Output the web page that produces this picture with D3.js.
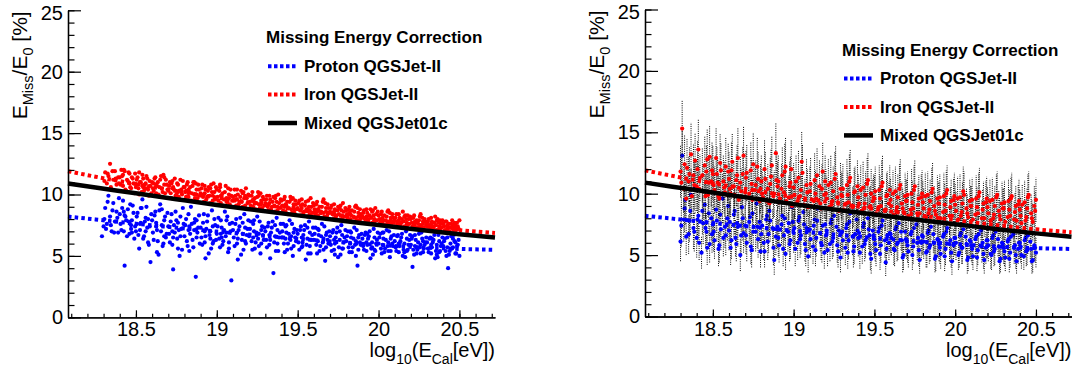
<!DOCTYPE html>
<html>
<head>
<meta charset="utf-8">
<script src="https://cdn.jsdelivr.net/npm/d3@7"></script>
<style>
  body { margin: 0; background: #fff; }
  text { font-family: "Liberation Sans", Arial, Helvetica, sans-serif; fill: #000; }
</style>
</head>
<body>
<svg id="chart" width="1079" height="374"></svg>
<script>

// axis ranges and tick labels
var xDomain = [18.08, 20.72];
var yDomain = [0, 25];
var xTicks = [18.5, 19, 19.5, 20, 20.5];
var yTicks = [0, 5, 10, 15, 20, 25];

var legendTitle = "Missing Energy Correction";
var legendLabels = ["Proton QGSJet-II", "Iron QGSJet-II", "Mixed QGSJet01c"];

// correction curves (same in both panels)
var curveX = [18.08, 18.25, 18.5, 18.75, 19, 19.25, 19.5, 19.75, 20, 20.25, 20.5, 20.72];
var protonCurve = [8.2, 7.97, 7.62, 7.3, 6.98, 6.68, 6.4, 6.13, 5.9, 5.7, 5.57, 5.5];
var ironCurve = [11.9, 11.45, 10.85, 10.28, 9.75, 9.25, 8.75, 8.3, 7.85, 7.45, 7.1, 6.87];
var mixedCurve = [10.9, 10.57, 10.1, 9.62, 9.15, 8.72, 8.3, 7.9, 7.52, 7.13, 6.77, 6.5];

// left panel: [log10(E), E_miss/E0]
var ironLeft = [
  [18.31,11.8],[18.32,10.9],[18.33,11.5],[18.34,12.5],[18.35,10.4],[18.36,11.2],[18.37,11.9],[18.38,10.8],[18.39,11.4],
  [18.40,11.4],[18.41,12.0],[18.42,10.7],[18.43,11.9],[18.44,10.3],[18.45,11.1],[18.46,11.7],[18.47,10.5],[18.48,11.3],[18.49,10.1],[18.42,11.6],[18.46,10.9],
  [18.50,10.6],[18.51,11.4],[18.52,10.0],[18.53,11.0],[18.54,11.6],[18.55,10.3],[18.56,10.9],[18.57,11.3],[18.58,9.9],[18.59,10.7],[18.52,11.8],[18.56,10.5],
  [18.60,11.0],[18.61,10.3],[18.62,11.4],[18.63,10.7],[18.64,10.0],[18.65,11.2],[18.66,10.5],[18.67,11.6],[18.68,10.1],[18.69,10.8],[18.61,10.9],[18.65,9.8],
  [18.70,10.3],[18.71,11.0],[18.72,9.7],[18.73,10.6],[18.74,11.3],[18.75,10.0],[18.76,10.8],[18.77,9.6],[18.78,10.4],[18.79,11.1],[18.72,10.9],[18.76,10.2],
  [18.80,10.6],[18.81,9.8],[18.82,11.0],[18.83,10.2],[18.84,9.5],[18.85,10.7],[18.86,10.0],[18.87,10.9],[18.88,9.7],[18.89,10.4],[18.81,10.3],[18.86,11.0],
  [18.90,10.1],[18.91,10.8],[18.92,9.4],[18.93,10.4],[18.94,9.8],[18.95,10.6],[18.96,9.3],[18.97,10.2],[18.98,10.9],[18.99,9.6],[18.92,10.0],[18.96,10.5],
  [19.00,10.4],[19.01,9.5],[19.02,10.6],[19.03,9.9],[19.04,9.1],[19.05,10.2],[19.06,9.7],[19.07,10.5],[19.08,9.2],[19.09,9.9],[19.02,10.8],[19.06,9.4],
  [19.10,9.8],[19.11,10.4],[19.12,9.1],[19.13,10.0],[19.14,9.4],[19.15,10.3],[19.16,9.0],[19.17,9.7],[19.18,10.5],[19.19,9.3],[19.12,9.6],[19.16,10.1],
  [19.20,9.9],[19.21,9.1],[19.22,10.2],[19.23,9.4],[19.24,8.8],[19.25,9.8],[19.26,9.2],[19.27,10.1],[19.28,8.9],[19.29,9.6],[19.22,9.5],[19.26,9.9],
  [19.30,9.3],[19.31,9.9],[19.32,8.7],[19.33,9.6],[19.34,9.0],[19.35,9.8],[19.36,8.6],[19.37,9.4],[19.38,10.0],[19.39,8.9],[19.32,9.2],[19.36,9.7],
  [19.40,9.5],[19.41,8.7],[19.42,9.8],[19.43,9.1],[19.44,8.4],[19.45,9.4],[19.46,8.8],[19.47,9.7],[19.48,8.5],[19.49,9.2],[19.42,9.0],[19.46,9.6],
  [19.50,8.9],[19.51,9.5],[19.52,8.3],[19.53,9.2],[19.54,8.6],[19.55,9.4],[19.56,8.2],[19.57,9.0],[19.58,9.7],[19.59,8.5],[19.52,9.1],[19.56,8.8],
  [19.60,9.1],[19.61,8.4],[19.62,9.4],[19.63,8.7],[19.64,8.1],[19.65,9.0],[19.66,8.5],[19.67,9.3],[19.68,8.2],[19.69,8.9],[19.62,8.6],[19.66,9.6],
  [19.70,8.6],[19.71,9.1],[19.72,8.0],[19.73,8.8],[19.74,8.3],[19.75,9.0],[19.76,7.9],[19.77,8.7],[19.78,9.3],[19.79,8.2],[19.72,8.5],[19.76,8.9],
  [19.80,8.7],[19.81,8.0],[19.82,9.0],[19.83,8.3],[19.84,7.8],[19.85,8.6],[19.86,8.1],[19.87,8.9],[19.88,7.9],[19.89,8.4],[19.82,8.5],[19.86,9.1],
  [19.90,8.2],[19.91,8.7],[19.92,7.7],[19.93,8.5],[19.94,8.0],[19.95,8.8],[19.96,7.7],[19.97,8.3],[19.98,8.9],[19.99,7.9],[19.92,8.1],[19.96,8.6],
  [20.00,8.3],[20.01,7.7],[20.02,8.6],[20.03,7.9],[20.04,7.5],[20.05,8.2],[20.06,7.8],[20.07,8.5],[20.08,7.6],[20.09,8.1],[20.02,8.0],[20.06,8.7],
  [20.10,7.9],[20.11,8.4],[20.12,7.5],[20.13,8.1],[20.14,7.7],[20.15,8.6],[20.16,7.4],[20.17,8.0],[20.18,8.3],[20.19,7.6],[20.12,7.8],[20.16,8.2],
  [20.20,8.0],[20.21,7.4],[20.22,8.3],[20.23,7.7],[20.24,7.3],[20.25,7.9],[20.26,7.5],[20.27,8.1],[20.28,7.3],[20.29,7.8],[20.22,7.6],[20.26,8.4],
  [20.30,7.6],[20.31,8.0],[20.32,7.2],[20.33,7.8],[20.34,7.4],[20.35,8.2],[20.36,7.1],[20.37,7.7],[20.38,7.9],[20.39,7.3],[20.32,7.5],[20.36,7.9],
  [20.40,7.6],[20.41,7.1],[20.42,7.8],[20.43,7.3],[20.44,7.0],[20.45,7.6],[20.46,7.2],[20.47,7.7],[20.48,7.1],[20.49,7.4],[20.50,7.9],[20.46,7.5]
];

var ironLeft2 = [
  [18.305,11.1],[18.325,11.7],[18.345,10.6],[18.355,11.9],[18.375,11.3],[18.395,10.9],
  [18.405,10.8],[18.415,11.5],[18.425,12.0],[18.435,10.4],[18.445,11.2],[18.455,11.8],[18.465,10.6],[18.475,11.4],[18.485,10.9],[18.495,11.7],
  [18.505,11.2],[18.515,10.5],[18.525,11.0],[18.535,10.2],[18.545,11.3],[18.555,10.8],[18.565,11.5],[18.575,10.4],[18.585,11.1],[18.595,10.1],[18.515,10.8],[18.545,10.6],
  [18.605,10.5],[18.615,11.3],[18.625,10.1],[18.635,11.0],[18.645,10.6],[18.655,11.5],[18.665,10.2],[18.675,10.8],[18.685,11.2],[18.695,10.4],[18.625,10.8],[18.675,11.4],
  [18.705,10.7],[18.715,10.1],[18.725,11.1],[18.735,10.4],[18.745,9.9],[18.755,10.9],[18.765,10.3],[18.775,11.2],[18.785,10.0],[18.795,10.6],[18.725,10.5],[18.765,9.8],
  [18.805,10.2],[18.815,10.8],[18.825,9.8],[18.835,10.6],[18.845,10.1],[18.855,11.0],[18.865,9.7],[18.875,10.4],[18.885,10.8],[18.895,9.9],[18.825,10.4],[18.875,10.0],
  [18.905,10.5],[18.915,9.8],[18.925,10.7],[18.935,9.6],[18.945,10.3],[18.955,9.9],[18.965,10.8],[18.975,9.5],[18.985,10.2],[18.995,10.6],[18.925,10.1],[18.975,9.9],
  [19.005,9.8],[19.015,10.3],[19.025,9.3],[19.035,10.1],[19.045,9.6],[19.055,10.7],[19.065,9.4],[19.075,10.0],[19.085,10.4],[19.095,9.5],[19.025,9.9],[19.075,9.7],
  [19.105,9.5],[19.115,9.9],[19.125,10.4],[19.135,9.2],[19.145,9.8],[19.155,9.4],[19.165,10.2],[19.175,9.1],[19.185,9.7],[19.195,10.0],[19.125,9.6],[19.175,9.9],
  [19.205,9.4],[19.215,9.9],[19.225,9.0],[19.235,9.7],[19.245,9.3],[19.255,10.2],[19.265,8.9],[19.275,9.5],[19.285,9.8],[19.295,9.1],[19.225,9.6],[19.275,9.3],
  [19.305,9.6],[19.315,9.0],[19.325,9.9],[19.335,8.8],[19.345,9.4],[19.355,9.1],[19.365,9.9],[19.375,8.7],[19.385,9.3],[19.395,9.6],[19.325,9.3],[19.375,9.0],
  [19.405,9.1],[19.415,9.6],[19.425,8.6],[19.435,9.4],[19.445,8.9],[19.455,9.8],[19.465,8.5],[19.475,9.2],[19.485,9.5],[19.495,8.8],[19.425,9.2],[19.475,9.0],
  [19.505,9.3],[19.515,8.7],[19.525,9.6],[19.535,8.5],[19.545,9.1],[19.555,8.8],[19.565,9.5],[19.575,8.4],[19.585,9.0],[19.595,9.3],[19.525,8.9],[19.575,8.7],
  [19.605,8.8],[19.615,9.2],[19.625,8.3],[19.635,9.0],[19.645,8.6],[19.655,9.4],[19.665,8.2],[19.675,8.9],[19.685,9.2],[19.695,8.5],[19.625,8.8],[19.675,8.6],
  [19.705,8.9],[19.715,8.4],[19.725,9.2],[19.735,8.1],[19.745,8.7],[19.755,8.4],[19.765,9.1],[19.775,8.0],[19.785,8.6],[19.795,8.9],[19.725,8.6],[19.775,8.3],
  [19.805,8.4],[19.815,8.8],[19.825,8.0],[19.835,8.7],[19.845,8.2],[19.855,9.0],[19.865,7.9],[19.875,8.5],[19.885,8.8],[19.895,8.1],[19.825,8.4],[19.875,8.2],
  [19.905,8.5],[19.915,8.0],[19.925,8.8],[19.935,7.8],[19.945,8.3],[19.955,8.1],[19.965,8.7],[19.975,7.8],[19.985,8.4],[19.995,8.6],[19.925,8.2],[19.975,8.0],
  [20.005,8.0],[20.015,8.4],[20.025,7.7],[20.035,8.3],[20.045,7.9],[20.055,8.6],[20.065,7.6],[20.075,8.1],[20.085,8.4],[20.095,7.8],[20.025,8.1],[20.075,7.9],
  [20.105,8.1],[20.115,7.6],[20.125,8.4],[20.135,7.5],[20.145,8.0],[20.155,7.8],[20.165,8.3],[20.175,7.5],[20.185,8.0],[20.195,8.2],[20.125,7.9],[20.175,7.7],
  [20.205,7.7],[20.215,8.1],[20.225,7.4],[20.235,7.9],[20.245,7.6],[20.255,8.2],[20.265,7.3],[20.275,7.8],[20.285,8.0],[20.295,7.5],[20.225,7.8],[20.275,7.6],
  [20.305,7.8],[20.315,7.4],[20.325,8.1],[20.335,7.3],[20.345,7.7],[20.355,7.5],[20.365,8.0],[20.375,7.2],[20.385,7.6],[20.395,7.9],[20.325,7.6],[20.375,7.4],
  [20.405,7.4],[20.415,7.8],[20.425,7.2],[20.435,7.6],[20.445,7.3],[20.455,7.9],[20.465,7.1],[20.475,7.5],[20.485,7.7],[20.495,7.2],[20.425,7.5],[20.475,7.3]
];

var protonLeft = [
  [18.29,6.6],[18.30,7.4],[18.31,8.9],[18.32,7.6],[18.33,9.9],[18.34,8.2],[18.35,7.0],[18.36,9.3],[18.37,7.8],[18.38,8.6],[18.39,6.9],
  [18.40,8.4],[18.41,7.1],[18.42,9.5],[18.43,4.2],[18.44,7.9],[18.45,8.8],[18.46,6.8],[18.47,7.5],[18.48,9.1],[18.49,6.4],[18.43,8.3],[18.47,7.2],
  [18.50,7.0],[18.51,8.5],[18.52,5.6],[18.53,7.7],[18.54,9.6],[18.55,6.6],[18.56,8.1],[18.57,7.3],[18.58,5.9],[18.59,4.5],[18.53,8.9],[18.56,7.0],
  [18.60,7.9],[18.61,6.3],[18.62,8.6],[18.63,7.1],[18.64,5.1],[18.65,9.2],[18.66,7.5],[18.67,6.0],[18.68,8.2],[18.69,6.8],[18.63,5.3],[18.66,8.8],
  [18.70,7.4],[18.71,6.1],[18.72,8.4],[18.73,3.9],[18.74,6.9],[18.75,7.9],[18.76,5.6],[18.77,5.0],[18.78,7.2],[18.79,8.9],[18.73,6.5],[18.76,7.7],
  [18.80,6.6],[18.81,8.0],[18.82,5.8],[18.83,7.4],[18.84,9.0],[18.85,6.3],[18.86,7.7],[18.87,3.3],[18.88,6.9],[18.89,8.3],[18.83,5.4],[18.86,7.1],
  [18.90,7.3],[18.91,5.9],[18.92,8.4],[18.93,6.6],[18.94,7.8],[18.95,5.2],[18.96,7.0],[18.97,8.7],[18.98,6.2],[18.99,7.5],[18.93,4.8],[18.96,6.4],
  [19.00,6.8],[19.01,8.1],[19.02,5.7],[19.03,7.3],[19.04,6.2],[19.05,8.6],[19.06,6.9],[19.07,5.3],[19.08,7.6],[19.09,3.0],[19.03,6.5],[19.06,7.9],
  [19.10,7.1],[19.11,5.8],[19.12,8.0],[19.13,6.4],[19.14,7.4],[19.15,5.1],[19.16,6.8],[19.17,8.4],[19.18,6.0],[19.19,7.2],[19.13,4.7],[19.16,7.7],
  [19.20,6.6],[19.21,7.8],[19.22,5.5],[19.23,7.0],[19.24,6.1],[19.25,8.2],[19.26,6.8],[19.27,5.2],[19.28,7.4],[19.29,6.3],[19.23,7.9],[19.26,5.8],
  [19.30,7.0],[19.31,5.7],[19.32,7.7],[19.33,6.3],[19.34,7.3],[19.35,3.6],[19.36,6.6],[19.37,8.1],[19.38,5.4],[19.39,6.9],[19.33,4.8],[19.36,7.5],
  [19.40,6.5],[19.41,7.6],[19.42,5.3],[19.43,6.9],[19.44,6.0],[19.45,7.9],[19.46,6.6],[19.47,5.0],[19.48,7.2],[19.49,6.2],[19.43,7.5],[19.46,5.6],
  [19.50,6.8],[19.51,5.5],[19.52,7.4],[19.53,6.1],[19.54,7.1],[19.55,4.7],[19.56,6.4],[19.57,7.8],[19.58,5.2],[19.59,6.7],[19.53,5.8],[19.56,7.3],
  [19.60,6.3],[19.61,7.3],[19.62,5.2],[19.63,6.7],[19.64,5.8],[19.65,7.6],[19.66,6.4],[19.67,4.6],[19.68,6.9],[19.69,6.0],[19.63,7.1],[19.66,5.5],
  [19.70,6.6],[19.71,5.4],[19.72,7.1],[19.73,6.0],[19.74,6.9],[19.75,4.9],[19.76,6.3],[19.77,7.5],[19.78,5.6],[19.79,6.5],[19.73,5.1],[19.76,7.0],
  [19.80,6.2],[19.81,7.0],[19.82,5.3],[19.83,6.5],[19.84,5.7],[19.85,7.3],[19.86,6.2],[19.87,4.2],[19.88,6.7],[19.89,5.9],[19.83,6.9],[19.86,5.0],
  [19.90,6.4],[19.91,5.5],[19.92,6.9],[19.93,5.9],[19.94,6.6],[19.95,4.8],[19.96,6.1],[19.97,7.2],[19.98,5.4],[19.99,6.3],[19.93,6.8],[19.96,5.7],
  [20.00,6.0],[20.01,6.8],[20.02,5.2],[20.03,6.4],[20.04,5.6],[20.05,7.1],[20.06,6.1],[20.07,4.9],[20.08,6.6],[20.09,5.8],[20.03,6.9],[20.06,5.4],
  [20.10,6.2],[20.11,5.4],[20.12,6.7],[20.13,5.8],[20.14,6.5],[20.15,5.0],[20.16,6.0],[20.17,7.0],[20.18,5.5],[20.19,6.3],[20.13,6.0],[20.16,5.3],
  [20.20,5.9],[20.21,6.6],[20.22,5.1],[20.23,6.3],[20.24,5.5],[20.25,6.8],[20.26,5.9],[20.21,4.1],[20.27,6.4],[20.28,5.6],[20.29,6.1],[20.26,5.2],
  [20.30,6.1],[20.31,5.3],[20.32,6.5],[20.33,5.7],[20.34,6.3],[20.35,4.8],[20.36,5.9],[20.37,6.7],[20.38,5.4],[20.39,6.0],[20.33,6.4],[20.36,5.1],
  [20.40,5.8],[20.41,6.4],[20.42,5.0],[20.43,4.0],[20.44,5.4],[20.45,6.6],[20.46,5.7],[20.47,6.2],[20.48,5.2],[20.49,5.9],[20.50,5.0],[20.46,6.4]
];

var protonLeft2 = [
  [18.305,8.0],[18.315,7.2],[18.325,9.4],[18.345,7.5],[18.355,8.7],[18.365,6.9],[18.385,8.1],[18.395,9.7],
  [18.405,7.6],[18.415,8.9],[18.425,7.0],[18.435,8.2],[18.445,6.6],[18.455,7.8],[18.465,9.2],[18.475,6.9],[18.485,8.5],[18.495,7.4],[18.425,8.6],[18.475,7.9],
  [18.505,8.2],[18.515,6.7],[18.525,7.6],[18.535,8.9],[18.545,6.4],[18.555,7.8],[18.565,9.0],[18.575,6.1],[18.585,7.4],[18.595,8.4],[18.525,7.1],[18.575,8.0],
  [18.605,6.9],[18.615,8.3],[18.625,7.4],[18.635,6.2],[18.645,8.7],[18.655,7.0],[18.665,5.8],[18.675,7.9],[18.685,6.5],[18.695,8.5],[18.625,7.7],[18.675,6.6],
  [18.705,6.8],[18.715,7.8],[18.725,5.9],[18.735,7.5],[18.745,8.6],[18.755,6.4],[18.765,7.1],[18.775,8.2],[18.785,5.5],[18.795,7.6],[18.725,7.0],[18.775,6.6],
  [18.805,7.5],[18.815,6.2],[18.825,8.4],[18.835,6.8],[18.845,7.6],[18.855,5.7],[18.865,8.0],[18.875,6.5],[18.885,7.3],[18.895,6.0],[18.825,7.1],[18.875,7.9],
  [18.905,6.5],[18.915,7.7],[18.925,6.1],[18.935,7.2],[18.945,8.3],[18.955,6.7],[18.965,5.6],[18.975,7.4],[18.985,8.0],[18.995,6.3],[18.925,7.0],[18.975,6.0],
  [19.005,7.4],[19.015,6.4],[19.025,7.9],[19.035,5.9],[19.045,7.1],[19.055,6.6],[19.065,8.2],[19.075,6.1],[19.085,7.0],[19.095,7.7],[19.025,6.8],[19.075,5.6],
  [19.105,6.5],[19.115,7.6],[19.125,6.0],[19.135,7.1],[19.145,8.1],[19.155,6.3],[19.165,5.5],[19.175,7.3],[19.185,6.7],[19.195,7.9],[19.125,6.9],[19.175,6.2],
  [19.205,7.2],[19.215,6.2],[19.225,7.6],[19.235,5.6],[19.245,6.9],[19.255,6.4],[19.265,7.8],[19.275,6.0],[19.285,6.7],[19.295,7.3],[19.225,6.5],[19.275,7.1],
  [19.305,6.3],[19.315,7.4],[19.325,5.9],[19.335,6.9],[19.345,7.8],[19.355,6.1],[19.365,5.4],[19.375,7.1],[19.385,6.5],[19.395,7.6],[19.325,6.7],[19.375,6.0],
  [19.405,7.0],[19.415,6.0],[19.425,7.4],[19.435,5.5],[19.445,6.8],[19.455,6.3],[19.465,7.6],[19.475,5.8],[19.485,6.5],[19.495,7.1],[19.425,6.4],[19.475,6.9],
  [19.505,6.1],[19.515,7.1],[19.525,5.7],[19.535,6.7],[19.545,7.5],[19.555,5.9],[19.565,5.2],[19.575,6.9],[19.585,6.3],[19.595,7.3],[19.525,6.5],[19.575,5.8],
  [19.605,6.8],[19.615,5.9],[19.625,7.2],[19.635,5.4],[19.645,6.6],[19.655,6.1],[19.665,7.4],[19.675,5.7],[19.685,6.3],[19.695,7.0],[19.625,6.2],[19.675,6.7],
  [19.705,5.9],[19.715,6.9],[19.725,5.5],[19.735,6.5],[19.745,7.3],[19.755,5.7],[19.765,5.1],[19.775,6.7],[19.785,6.1],[19.795,7.1],[19.725,6.3],[19.775,5.6],
  [19.805,6.6],[19.815,5.7],[19.825,7.0],[19.835,5.3],[19.845,6.4],[19.855,5.9],[19.865,7.1],[19.875,5.5],[19.885,6.1],[19.895,6.8],[19.825,6.0],[19.875,6.5],
  [19.905,5.8],[19.915,6.7],[19.925,5.4],[19.935,6.4],[19.945,7.0],[19.955,5.6],[19.965,5.1],[19.975,6.5],[19.985,6.0],[19.995,6.9],[19.925,6.1],[19.975,5.5],
  [20.005,6.5],[20.015,5.6],[20.025,6.9],[20.035,5.3],[20.045,6.3],[20.055,5.8],[20.065,7.0],[20.075,5.4],[20.085,6.0],[20.095,6.7],[20.025,5.9],[20.075,6.4],
  [20.105,5.7],[20.115,6.6],[20.125,5.3],[20.135,6.2],[20.145,6.8],[20.155,5.5],[20.165,4.9],[20.175,6.4],[20.185,5.9],[20.195,6.7],[20.125,6.0],[20.175,5.4],
  [20.205,6.4],[20.215,5.5],[20.225,6.7],[20.235,5.2],[20.245,6.1],[20.255,5.7],[20.265,6.9],[20.275,5.3],[20.285,5.9],[20.295,6.5],[20.225,5.8],[20.275,6.2],
  [20.305,5.6],[20.315,6.4],[20.325,5.2],[20.335,6.1],[20.345,6.7],[20.355,5.4],[20.365,4.9],[20.375,6.2],[20.385,5.8],[20.395,6.5],[20.325,5.9],[20.375,5.3],
  [20.405,6.2],[20.415,5.4],[20.425,6.5],[20.435,5.1],[20.445,6.0],[20.455,5.6],[20.465,6.7],[20.475,5.2],[20.485,5.8],[20.495,6.3],[20.425,5.7],[20.475,6.1]
];

// right panel: [log10(E), E_miss/E0, error]
var ironRight = [
  [18.30,11.8,2.1],[18.31,15.3,2.3],[18.32,10.4,1.9],[18.34,12.1,2.4],[18.35,11.0,2.0],[18.37,9.8,1.8],[18.38,11.5,2.6],[18.39,12.7,2.2],
  [18.40,10.6,2.0],[18.41,13.6,2.5],[18.42,11.3,1.9],[18.44,10.2,2.2],[18.45,12.3,2.4],[18.46,11.8,2.1],[18.47,9.9,1.8],[18.48,13.0,2.6],[18.49,11.0,2.0],
  [18.50,11.6,2.3],[18.51,10.3,1.9],[18.52,12.9,2.5],[18.53,10.9,2.0],[18.54,9.6,1.8],[18.55,11.9,2.2],[18.57,10.5,2.1],[18.58,12.2,2.4],[18.59,9.9,1.7],
  [18.60,11.2,2.2],[18.61,10.0,1.9],[18.62,12.6,2.3],[18.63,10.6,2.0],[18.65,11.5,2.5],[18.66,9.5,1.8],[18.67,10.9,2.1],[18.69,13.1,2.4],
  [18.70,10.1,2.0],[18.71,11.7,2.3],[18.72,9.7,1.8],[18.74,10.8,2.1],[18.75,12.4,2.6],[18.76,10.3,1.9],[18.78,11.2,2.2],[18.79,9.4,1.7],
  [18.80,11.0,2.1],[18.81,9.7,1.8],[18.82,12.0,2.4],[18.84,10.4,2.0],[18.85,9.2,1.7],[18.86,11.4,2.2],[18.88,10.0,1.9],[18.89,13.3,2.5],
  [18.90,10.6,2.0],[18.91,9.3,1.8],[18.93,11.5,2.3],[18.94,10.1,1.9],[18.95,12.2,2.4],[18.97,9.7,1.8],[18.98,10.9,2.1],[18.99,9.0,1.7],
  [19.00,10.5,2.0],[19.01,9.2,1.8],[19.03,11.3,2.2],[19.04,9.8,1.9],[19.05,12.6,2.5],[19.07,9.5,1.8],[19.08,10.7,2.1],[19.09,8.9,1.7],
  [19.10,10.2,2.0],[19.11,9.0,1.7],[19.13,11.1,2.2],[19.14,9.6,1.9],[19.16,10.6,2.1],[19.17,8.8,1.7],[19.18,11.8,2.4],[19.19,9.9,1.9],
  [19.20,10.0,2.0],[19.22,8.9,1.7],[19.23,10.9,2.2],[19.24,9.4,1.8],[19.26,11.6,2.3],[19.27,9.7,1.9],[19.28,8.6,1.6],[19.29,10.4,2.1],
  [19.30,9.8,1.9],[19.31,8.7,1.7],[19.33,10.7,2.1],[19.34,9.3,1.8],[19.35,11.3,2.3],[19.37,9.0,1.7],[19.38,10.2,2.0],[19.39,8.5,1.6],
  [19.40,9.7,1.9],[19.42,8.6,1.7],[19.43,10.5,2.1],[19.44,9.2,1.8],[19.46,11.1,2.2],[19.47,8.9,1.7],[19.48,10.0,2.0],[19.49,9.4,1.8],
  [19.50,9.6,1.9],[19.51,8.4,1.6],[19.53,10.3,2.0],[19.54,9.0,1.8],[19.55,10.9,2.2],[19.57,8.7,1.7],[19.58,9.9,1.9],[19.59,9.2,1.8],
  [19.60,9.5,1.8],[19.62,8.3,1.6],[19.63,10.2,2.0],[19.64,8.9,1.7],[19.66,10.7,2.1],[19.67,9.2,1.8],[19.68,8.5,1.6],[19.69,9.8,1.9],
  [19.70,9.4,1.8],[19.71,8.2,1.6],[19.73,10.0,2.0],[19.74,8.8,1.7],[19.75,10.6,2.1],[19.77,9.1,1.8],[19.78,8.4,1.6],[19.79,9.7,1.9],
  [19.80,9.3,1.8],[19.82,8.1,1.6],[19.83,9.9,1.9],[19.84,8.7,1.7],[19.86,10.4,2.1],[19.87,9.0,1.7],[19.88,8.3,1.6],[19.89,9.6,1.9],
  [19.90,9.2,1.8],[19.91,8.0,1.5],[19.93,9.8,1.9],[19.94,8.6,1.7],[19.95,10.3,2.0],[19.97,8.9,1.7],[19.98,8.2,1.6],[19.99,9.5,1.8],
  [20.00,9.1,1.8],[20.02,7.9,1.5],[20.03,9.7,1.9],[20.04,8.5,1.6],[20.05,10.2,2.0],[20.07,8.8,1.7],[20.08,8.1,1.5],[20.09,9.4,1.8],
  [20.10,9.0,1.7],[20.11,7.9,1.5],[20.13,9.6,1.9],[20.14,8.4,1.6],[20.15,10.1,2.0],[20.17,8.7,1.7],[20.18,8.0,1.5],[20.19,9.3,1.8],
  [20.20,8.9,1.7],[20.22,7.8,1.5],[20.23,9.5,1.8],[20.24,8.3,1.6],[20.26,9.9,1.9],[20.27,8.6,1.7],[20.28,7.9,1.5],[20.29,9.2,1.8],
  [20.30,8.8,1.7],[20.31,7.7,1.5],[20.33,9.4,1.8],[20.34,8.2,1.6],[20.35,9.8,1.9],[20.37,8.5,1.6],[20.38,7.8,1.5],[20.39,9.1,1.7],
  [20.40,8.7,1.7],[20.41,7.6,1.4],[20.43,9.3,1.8],[20.44,8.1,1.5],[20.45,9.7,1.9],[20.47,8.4,1.6],[20.48,7.7,1.5],[20.49,9.0,1.7],[20.50,9.5,1.8]
];

var ironRight2 = [
  [18.305,10.9,2.0],[18.325,12.4,2.4],[18.335,9.6,1.8],[18.355,11.6,2.2],[18.365,13.2,2.6],[18.385,10.7,2.0],
  [18.405,12.0,2.3],[18.415,10.4,1.9],[18.435,11.5,2.2],[18.455,9.8,1.8],[18.465,12.8,2.5],[18.475,10.9,2.0],[18.495,11.9,2.3],
  [18.505,10.7,2.0],[18.525,11.6,2.2],[18.535,9.8,1.8],[18.545,12.5,2.4],[18.565,11.0,2.1],[18.575,10.1,1.9],[18.595,11.8,2.3],
  [18.605,10.4,2.0],[18.615,11.9,2.3],[18.635,9.9,1.8],[18.645,11.1,2.1],[18.655,12.9,2.5],[18.675,10.2,1.9],[18.685,11.6,2.2],
  [18.705,11.3,2.2],[18.725,10.0,1.9],[18.735,11.9,2.3],[18.745,9.5,1.7],[18.765,10.7,2.0],[18.775,12.2,2.4],[18.795,10.4,2.0],
  [18.805,10.0,1.9],[18.825,11.2,2.2],[18.835,9.4,1.7],[18.855,10.8,2.1],[18.865,12.3,2.4],[18.875,9.8,1.8],[18.895,11.1,2.1],
  [18.905,11.0,2.1],[18.915,9.6,1.8],[18.925,10.4,2.0],[18.945,11.8,2.3],[18.955,9.4,1.7],[18.975,10.6,2.0],[18.985,12.0,2.4],
  [19.005,9.9,1.9],[19.015,11.0,2.1],[19.025,9.4,1.8],[19.045,10.3,2.0],[19.055,11.7,2.3],[19.065,9.1,1.7],[19.085,10.1,1.9],
  [19.105,10.8,2.1],[19.125,9.4,1.8],[19.135,10.0,1.9],[19.145,11.5,2.2],[19.165,9.2,1.7],[19.175,10.4,2.0],[19.195,11.0,2.1],
  [19.205,9.6,1.8],[19.215,10.7,2.1],[19.235,9.1,1.7],[19.245,10.2,2.0],[19.255,11.2,2.2],[19.275,9.3,1.8],[19.295,9.9,1.9],
  [19.305,10.4,2.0],[19.325,9.2,1.7],[19.335,9.9,1.9],[19.345,11.0,2.2],[19.365,8.9,1.7],[19.375,10.1,2.0],[19.395,10.6,2.1],
  [19.405,9.2,1.7],[19.415,10.3,2.0],[19.435,8.8,1.7],[19.445,9.9,1.9],[19.455,10.8,2.1],[19.475,9.0,1.7],[19.495,9.7,1.9],
  [19.505,10.2,2.0],[19.525,8.9,1.7],[19.535,9.6,1.9],[19.545,10.6,2.1],[19.565,8.6,1.6],[19.575,9.8,1.9],[19.595,10.3,2.0],
  [19.605,9.0,1.7],[19.615,10.0,1.9],[19.635,8.6,1.6],[19.645,9.7,1.9],[19.655,10.4,2.0],[19.675,8.8,1.7],[19.695,9.4,1.8],
  [19.705,9.9,1.9],[19.725,8.7,1.6],[19.735,9.3,1.8],[19.745,10.3,2.0],[19.765,8.4,1.6],[19.775,9.6,1.9],[19.795,10.0,1.9],
  [19.805,8.8,1.7],[19.815,9.8,1.9],[19.835,8.4,1.6],[19.845,9.4,1.8],[19.855,10.1,2.0],[19.875,8.6,1.6],[19.895,9.2,1.8],
  [19.905,9.7,1.9],[19.925,8.5,1.6],[19.935,9.1,1.8],[19.945,10.0,1.9],[19.965,8.2,1.5],[19.975,9.4,1.8],[19.995,9.8,1.9],
  [20.005,8.6,1.6],[20.015,9.6,1.8],[20.035,8.2,1.5],[20.045,9.2,1.8],[20.055,9.9,1.9],[20.075,8.4,1.6],[20.095,9.0,1.7],
  [20.105,9.5,1.8],[20.125,8.3,1.6],[20.135,8.9,1.7],[20.145,9.8,1.9],[20.165,8.0,1.5],[20.175,9.2,1.8],[20.195,9.6,1.8],
  [20.205,8.4,1.6],[20.215,9.4,1.8],[20.235,8.0,1.5],[20.245,9.0,1.7],[20.255,9.7,1.9],[20.275,8.2,1.5],[20.295,8.8,1.7],
  [20.305,9.3,1.8],[20.325,8.1,1.5],[20.335,8.7,1.7],[20.345,9.6,1.8],[20.365,7.9,1.5],[20.375,9.0,1.7],[20.395,9.4,1.8],
  [20.405,8.2,1.5],[20.415,9.1,1.7],[20.435,7.8,1.5],[20.445,8.8,1.7],[20.455,9.9,1.9],[20.475,8.0,1.5],[20.495,8.6,1.6]
];

var protonRight = [
  [18.30,6.1,1.6],[18.31,13.1,2.2],[18.32,7.9,1.8],[18.33,9.5,2.0],[18.35,6.7,1.6],[18.36,8.6,1.9],[18.38,7.2,1.7],[18.39,10.5,2.1],
  [18.40,6.4,1.6],[18.41,8.2,1.8],[18.43,5.2,1.3],[18.44,7.6,1.7],[18.45,9.1,2.0],[18.46,6.9,1.6],[18.48,5.9,1.5],[18.49,8.0,1.8],
  [18.50,7.5,1.7],[18.51,6.2,1.5],[18.52,8.7,1.9],[18.54,5.8,1.4],[18.55,7.1,1.7],[18.56,9.6,2.0],[18.58,6.6,1.6],[18.59,8.0,1.8],
  [18.60,7.0,1.6],[18.61,5.6,1.4],[18.63,8.3,1.8],[18.64,6.4,1.5],[18.65,7.6,1.7],[18.67,5.0,1.3],[18.68,8.9,1.9],[18.69,6.8,1.6],
  [18.70,7.4,1.7],[18.71,6.0,1.5],[18.73,8.1,1.8],[18.74,5.4,1.4],[18.75,6.9,1.6],[18.77,9.2,2.0],[18.78,6.3,1.5],[18.79,7.7,1.7],
  [18.80,6.7,1.6],[18.82,5.3,1.3],[18.83,7.9,1.7],[18.84,6.1,1.5],[18.85,8.6,1.9],[18.87,7.2,1.6],[18.88,4.6,1.2],[18.89,6.5,1.5],
  [18.90,7.3,1.7],[18.91,5.8,1.4],[18.93,8.2,1.8],[18.94,6.6,1.5],[18.95,5.1,1.3],[18.97,7.6,1.7],[18.98,6.2,1.5],[18.99,8.9,1.9],
  [19.00,6.8,1.6],[19.01,5.5,1.4],[19.03,7.8,1.7],[19.04,6.3,1.5],[19.06,8.5,1.8],[19.07,5.9,1.4],[19.08,7.2,1.6],[19.09,4.9,1.3],
  [19.10,7.1,1.6],[19.12,5.7,1.4],[19.13,7.9,1.7],[19.14,6.4,1.5],[19.15,8.8,1.9],[19.17,6.0,1.4],[19.18,7.4,1.6],[19.19,5.2,1.3],
  [19.20,6.6,1.5],[19.21,5.4,1.3],[19.23,7.6,1.7],[19.24,6.1,1.4],[19.25,8.2,1.8],[19.27,5.8,1.4],[19.28,7.0,1.6],[19.29,4.8,1.2],
  [19.30,6.9,1.6],[19.32,5.6,1.4],[19.33,7.5,1.7],[19.34,6.2,1.5],[19.35,8.4,1.8],[19.37,5.3,1.3],[19.38,6.7,1.5],[19.39,7.9,1.7],
  [19.40,6.4,1.5],[19.41,5.2,1.3],[19.43,7.3,1.6],[19.44,5.9,1.4],[19.46,8.0,1.7],[19.47,6.6,1.5],[19.48,4.7,1.2],[19.49,7.0,1.6],
  [19.50,6.3,1.5],[19.51,5.4,1.3],[19.53,7.2,1.6],[19.54,5.8,1.4],[19.55,7.8,1.7],[19.57,4.4,1.1],[19.58,6.6,1.5],[19.59,6.0,1.4],
  [19.60,6.7,1.5],[19.62,5.5,1.3],[19.63,7.1,1.6],[19.64,5.9,1.4],[19.65,7.6,1.7],[19.67,6.2,1.4],[19.68,5.0,1.2],[19.69,6.9,1.5],
  [19.70,6.1,1.4],[19.71,5.3,1.3],[19.73,6.9,1.5],[19.74,5.7,1.4],[19.76,7.5,1.6],[19.77,6.4,1.5],[19.78,4.6,1.1],[19.79,6.0,1.4],
  [19.80,6.5,1.5],[19.82,5.2,1.2],[19.83,6.8,1.5],[19.84,5.6,1.3],[19.85,7.3,1.6],[19.87,6.0,1.4],[19.88,4.9,1.2],[19.89,6.3,1.4],
  [19.90,5.9,1.4],[19.91,5.1,1.2],[19.93,6.7,1.5],[19.94,5.5,1.3],[19.95,7.2,1.6],[19.97,6.2,1.4],[19.98,4.5,1.1],[19.99,5.8,1.3],
  [20.00,6.4,1.4],[20.02,5.0,1.2],[20.03,6.6,1.5],[20.04,5.6,1.3],[20.05,7.1,1.6],[20.07,5.9,1.3],[20.08,4.8,1.1],[20.09,6.2,1.4],
  [20.10,5.8,1.3],[20.11,4.9,1.1],[20.13,6.5,1.4],[20.14,5.4,1.2],[20.16,7.0,1.5],[20.17,6.0,1.4],[20.18,4.6,1.1],[20.19,5.6,1.3],
  [20.20,6.2,1.4],[20.22,5.1,1.2],[20.23,6.4,1.4],[20.24,5.3,1.2],[20.25,6.9,1.5],[20.27,5.7,1.3],[20.28,4.7,1.1],[20.29,6.0,1.3],
  [20.30,5.6,1.3],[20.31,4.8,1.1],[20.33,6.3,1.4],[20.34,5.2,1.2],[20.36,6.7,1.5],[20.37,5.8,1.3],[20.38,4.5,1.0],[20.39,5.5,1.2],
  [20.40,6.0,1.3],[20.41,5.0,1.1],[20.43,6.2,1.4],[20.44,5.3,1.2],[20.45,6.6,1.5],[20.47,5.5,1.2],[20.48,4.6,1.0],[20.49,5.8,1.3],[20.50,5.2,1.2]
];

var protonRight2 = [
  [18.305,7.4,1.7],[18.325,8.8,1.9],[18.335,6.5,1.5],[18.355,7.8,1.7],[18.365,9.9,2.1],[18.385,6.9,1.6],
  [18.405,7.9,1.8],[18.415,6.0,1.4],[18.435,8.6,1.9],[18.455,7.2,1.6],[18.465,5.6,1.4],[18.475,8.4,1.8],[18.495,6.7,1.5],
  [18.505,6.9,1.6],[18.525,7.8,1.7],[18.535,5.5,1.4],[18.545,8.3,1.8],[18.565,6.4,1.5],[18.575,7.3,1.7],[18.595,9.0,1.9],
  [18.605,7.7,1.7],[18.615,6.2,1.5],[18.635,8.6,1.9],[18.645,5.9,1.4],[18.655,7.3,1.6],[18.675,6.6,1.5],[18.685,8.0,1.8],
  [18.705,6.6,1.5],[18.725,7.7,1.7],[18.735,5.7,1.4],[18.745,8.4,1.8],[18.765,6.9,1.6],[18.775,7.3,1.7],[18.795,5.3,1.3],
  [18.805,7.4,1.7],[18.815,6.0,1.4],[18.835,8.2,1.8],[18.845,6.7,1.5],[18.855,7.8,1.7],[18.875,5.6,1.4],[18.895,7.1,1.6],
  [18.905,6.4,1.5],[18.925,7.5,1.7],[18.935,5.5,1.4],[18.945,8.0,1.8],[18.965,6.9,1.6],[18.975,5.9,1.4],[18.995,7.7,1.7],
  [19.005,7.2,1.6],[19.025,6.0,1.4],[19.035,8.1,1.8],[19.045,6.6,1.5],[19.065,7.5,1.7],[19.075,5.4,1.3],[19.095,7.0,1.6],
  [19.105,6.3,1.5],[19.125,7.4,1.6],[19.135,5.4,1.3],[19.145,7.8,1.7],[19.165,6.8,1.5],[19.175,5.8,1.4],[19.195,7.5,1.7],
  [19.205,7.0,1.6],[19.225,5.9,1.4],[19.235,7.9,1.7],[19.245,6.4,1.5],[19.265,7.3,1.6],[19.275,5.3,1.3],[19.295,6.8,1.5],
  [19.305,6.2,1.5],[19.325,7.2,1.6],[19.335,5.2,1.3],[19.345,7.7,1.7],[19.365,6.5,1.5],[19.375,5.7,1.4],[19.395,7.0,1.6],
  [19.405,6.8,1.5],[19.425,5.7,1.4],[19.435,7.6,1.7],[19.445,6.2,1.4],[19.465,7.1,1.6],[19.475,5.1,1.3],[19.495,6.6,1.5],
  [19.505,5.9,1.4],[19.525,6.9,1.5],[19.535,5.1,1.3],[19.545,7.4,1.6],[19.565,6.2,1.4],[19.575,5.5,1.3],[19.595,6.8,1.5],
  [19.605,6.4,1.4],[19.625,5.4,1.3],[19.635,7.3,1.6],[19.645,6.0,1.4],[19.665,6.9,1.5],[19.675,4.8,1.2],[19.695,6.3,1.4],
  [19.705,5.8,1.4],[19.725,6.7,1.5],[19.735,5.0,1.2],[19.745,7.2,1.6],[19.765,6.0,1.4],[19.775,5.4,1.3],[19.795,6.6,1.5],
  [19.805,6.1,1.4],[19.825,5.3,1.3],[19.835,7.0,1.5],[19.845,5.8,1.3],[19.865,6.7,1.5],[19.875,4.7,1.1],[19.895,6.2,1.4],
  [19.905,5.6,1.3],[19.925,6.5,1.4],[19.935,4.9,1.2],[19.945,6.9,1.5],[19.965,5.9,1.4],[19.975,5.2,1.2],[19.995,6.4,1.4],
  [20.005,6.0,1.4],[20.025,5.2,1.2],[20.035,6.8,1.5],[20.045,5.6,1.3],[20.065,6.5,1.4],[20.075,4.6,1.1],[20.095,6.1,1.4],
  [20.105,5.5,1.3],[20.125,6.3,1.4],[20.135,4.8,1.1],[20.145,6.7,1.5],[20.165,5.7,1.3],[20.175,5.1,1.2],[20.195,6.2,1.4],
  [20.205,5.8,1.3],[20.225,5.0,1.2],[20.235,6.6,1.5],[20.245,5.5,1.3],[20.265,6.3,1.4],[20.275,4.5,1.0],[20.295,5.9,1.3],
  [20.305,5.3,1.2],[20.325,6.1,1.4],[20.335,4.7,1.1],[20.345,6.5,1.4],[20.365,5.6,1.3],[20.375,5.0,1.1],[20.395,6.0,1.3],
  [20.405,5.7,1.3],[20.425,4.9,1.1],[20.435,6.4,1.4],[20.445,5.4,1.2],[20.465,6.1,1.4],[20.475,4.5,1.0],[20.495,5.6,1.2]
];

function CorrectionPanel() {

  var left = 68, right = 495,   // x pixel range of the frame
      top = 10, bottom = 317,   // y pixel range of the frame
      titleX = 27,              // baseline of the rotated y title
      legendX = 266, legendY = 43,
      iron = [], proton = [],
      errors = false;

  function my(svg) {
    var g = svg.append("g");

    var x = d3.scaleLinear().domain(xDomain).range([left, right]);
    var y = d3.scaleLinear().domain(yDomain).range([bottom, top]);

    // error bars (right panel only) go under the markers
    function drawSet(data, color) {
      if (errors) {
        g.append("g").selectAll("line")
          .data(data)
          .enter()
          .append("line")
            .attr("x1", function (d) { return x(d[0]); })
            .attr("x2", function (d) { return x(d[0]); })
            .attr("y1", function (d) { return y(d[1] - d[2]); })
            .attr("y2", function (d) { return y(d[1] + d[2]); })
            .attr("stroke", "#000")
            .attr("stroke-width", 1)
            .attr("stroke-dasharray", "1,1.2");
      }
      g.append("g").selectAll("circle")
        .data(data)
        .enter()
        .append("circle")
          .attr("cx", function (d) { return x(d[0]); })
          .attr("cy", function (d) { return y(d[1]); })
          .attr("r", 2.1)
          .style("fill", color);
    }
    drawSet(proton, "#0000ff");
    drawSet(iron, "#ff0000");

    // correction curves
    var line = d3.line()
      .x(function (d) { return x(d[0]); })
      .y(function (d) { return y(d[1]); })
      .curve(d3.curveMonotoneX);
    var curves = [
      {v: protonCurve, color: "#0000ff", dash: "3.5,3.2", w: 4},
      {v: ironCurve, color: "#ff0000", dash: "3.5,3.2", w: 4},
      {v: mixedCurve, color: "#000", dash: null, w: 4.5}
    ];
    curves.forEach(function (c) {
      g.append("path")
        .datum(curveX.map(function (xv, i) { return [xv, c.v[i]]; }))
        .attr("d", line)
        .attr("fill", "none")
        .attr("stroke", c.color)
        .attr("stroke-width", c.w)
        .attr("stroke-dasharray", c.dash);
    });

    // axes: ticks point into the frame
    var yAxis = g.append("g")
      .attr("transform", "translate(" + left + ",0)")
      .call(d3.axisLeft(y).tickValues(yTicks).tickSizeInner(-13).tickSizeOuter(0).tickPadding(5));
    g.append("g")
      .attr("transform", "translate(" + left + ",0)")
      .call(d3.axisLeft(y).tickValues(d3.range(0, 26, 1)).tickSizeInner(-6.5).tickSizeOuter(0).tickFormat(""));
    g.append("g")
      .attr("transform", "translate(0," + bottom + ")")
      .call(d3.axisBottom(x).tickValues(xTicks).tickSizeInner(-7).tickSizeOuter(0).tickPadding(5).tickFormat(d3.format("")));
    g.append("g")
      .attr("transform", "translate(0," + bottom + ")")
      .call(d3.axisBottom(x).tickValues(d3.range(18.1, 20.75, 0.1)).tickSizeInner(-3.5).tickSizeOuter(0).tickFormat(""));

    g.selectAll(".domain").attr("stroke", "#000").attr("stroke-width", 1.3);
    g.selectAll(".tick line").attr("stroke", "#000").attr("stroke-width", 1.2);
    g.selectAll(".tick text").style("font-size", "20px").attr("fill", "#000");
    // the top label sits a little below its tick, as in the original
    yAxis.selectAll(".tick text")
      .filter(function (d) { return d === yDomain[1]; })
      .attr("transform", "translate(0,3)");

    // x title: log10(E_Cal [eV])
    var xt = g.append("text")
      .attr("x", right)
      .attr("y", 357)
      .attr("text-anchor", "end")
      .style("font-size", "20px");
    xt.append("tspan").text("log");
    xt.append("tspan").attr("dy", 7).style("font-size", "14px").text("10");
    xt.append("tspan").attr("dy", -7).text("(E");
    xt.append("tspan").attr("dy", 7).style("font-size", "14px").text("Cal");
    xt.append("tspan").attr("dy", -7).text("[eV])");

    // y title: E_Miss / E_0 [%]
    var yt = g.append("text")
      .attr("transform", "translate(" + titleX + "," + (top + 1) + ") rotate(-90)")
      .attr("text-anchor", "end")
      .style("font-size", "21px");
    yt.append("tspan").text("E");
    yt.append("tspan").attr("dy", 6).style("font-size", "14.5px").text("Miss");
    yt.append("tspan").attr("dy", -6).text("/E");
    yt.append("tspan").attr("dy", 6).style("font-size", "14.5px").text("0");
    yt.append("tspan").attr("dy", -6).text(" [%]");

    // legend
    var leg = g.append("g").attr("transform", "translate(" + legendX + "," + legendY + ")");
    leg.append("text")
      .style("font-size", "17px")
      .style("font-weight", "bold")
      .text(legendTitle);
    var keys = [
      {color: "#0000ff", dash: "3.5,2.5", w: 4},
      {color: "#ff0000", dash: "3.5,2.5", w: 4},
      {color: "#000", dash: null, w: 4.5}
    ];
    legendLabels.forEach(function (label, i) {
      var row = leg.append("g").attr("transform", "translate(0," + (28.4 * (i + 1)) + ")");
      row.append("line")
        .attr("x1", 2).attr("x2", 31)
        .attr("y1", -5.5).attr("y2", -5.5)
        .attr("stroke", keys[i].color)
        .attr("stroke-width", keys[i].w)
        .attr("stroke-dasharray", keys[i].dash);
      row.append("text")
        .attr("x", 38)
        .style("font-size", "17px")
        .style("font-weight", "bold")
        .text(label);
    });
  }

  my.frame = function (l, r, t, b) { left = l; right = r; top = t; bottom = b; return my; };
  my.titleX = function (value) { titleX = value; return my; };
  my.legend = function (lx, ly) { legendX = lx; legendY = ly; return my; };
  my.data = function (ironPts, protonPts) { iron = ironPts; proton = protonPts; return my; };
  my.errors = function (value) { errors = value; return my; };

  return my;
}

var svg = d3.select("#chart");
svg.append("rect").attr("width", 1079).attr("height", 374).attr("fill", "#fff");

CorrectionPanel().frame(68, 495, 10.3, 317.3).titleX(27).legend(266, 43.3)
  .data(ironLeft.concat(ironLeft2), protonLeft.concat(protonLeft2))(svg);

CorrectionPanel().frame(645, 1071.5, 9.5, 316.5).titleX(604).legend(842, 55.7)
  .data(ironRight.concat(ironRight2), protonRight.concat(protonRight2)).errors(true)(svg);

</script>
</body>
</html>
